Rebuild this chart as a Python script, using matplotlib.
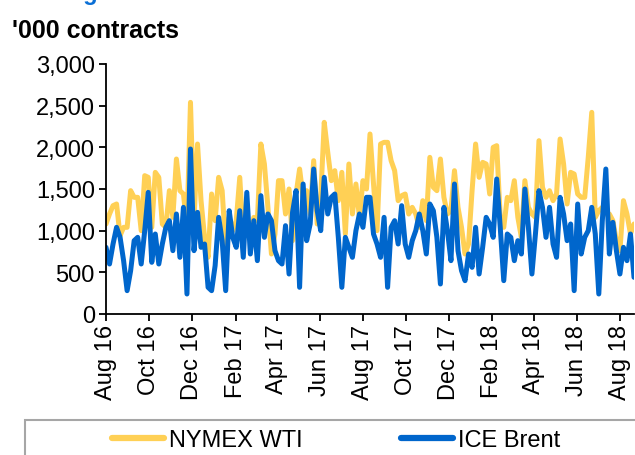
import pandas as pd
import numpy as np
import matplotlib
matplotlib.use("Agg")
import matplotlib.pyplot as plt
import matplotlib.dates as mdates
from matplotlib.patches import Rectangle

# daily volume, sampled every 5 days from 1 Aug 2016 ('000 contracts)
dates = pd.date_range("2016-08-01", periods=151, freq="5D")

nymex_wti = [
    1080, 1200, 1300, 1320, 940, 1040, 1040, 1480, 1400, 1400,
    1000, 1660, 1640, 1040, 1700, 1640, 1080, 1040, 1480, 1160,
    1860, 1480, 1440, 1040, 2540, 1120, 2040, 1360, 920, 680,
    1440, 1120, 1640, 1480, 800, 1160, 1000, 1120, 1640, 920,
    1000, 960, 1160, 1120, 2040, 1800, 1280, 720, 960, 1600,
    1600, 1200, 1500, 880, 1440, 1740, 1400, 1480, 1200, 1840,
    1080, 1400, 2300, 1940, 1600, 1720, 1360, 1700, 960, 1800,
    1200, 1560, 1160, 1600, 1500, 2160, 1560, 1000, 2040, 2060,
    2060, 1840, 1720, 1360, 1420, 1440, 1200, 1280, 1200, 1040,
    1360, 1120, 1880, 1520, 1480, 1860, 1400, 1200, 1240, 1720,
    1280, 1040, 720, 840, 1480, 2040, 1640, 1820, 1800, 1440,
    2000, 2020, 1160, 1040, 1400, 1360, 1600, 1160, 920, 1600,
    1280, 1200, 1160, 2080, 1520, 1400, 1480, 1360, 1440, 2100,
    1800, 1320, 1700, 1680, 1440, 1400, 1400, 1880, 2420, 1160,
    1240, 1280, 1200, 1200, 1120, 880, 760, 1360, 1200, 960,
    1080,
]

ice_brent = [
    800, 600, 840, 1040, 920, 640, 280, 520, 880, 920,
    600, 1000, 1460, 620, 960, 600, 840, 1040, 1120, 760,
    1200, 680, 1280, 240, 1980, 760, 1220, 800, 840, 320,
    280, 580, 1160, 880, 280, 1240, 920, 800, 1240, 680,
    1460, 720, 1120, 640, 1420, 920, 1200, 1120, 760, 640,
    600, 1060, 480, 1220, 1480, 320, 1560, 880, 1080, 1740,
    1240, 1000, 1640, 1200, 1400, 1440, 920, 320, 920, 800,
    680, 1000, 1200, 1040, 1400, 1400, 960, 840, 680, 1160,
    320, 1040, 1120, 840, 1300, 840, 680, 880, 1000, 1200,
    1000, 720, 1320, 1240, 920, 360, 1280, 1000, 640, 1560,
    760, 520, 400, 720, 560, 1040, 480, 800, 1160, 1080,
    920, 1620, 1040, 400, 960, 920, 640, 880, 720, 1500,
    1040, 480, 960, 1480, 1280, 920, 1280, 840, 680, 1400,
    1200, 880, 1080, 280, 1320, 720, 920, 1000, 1280, 960,
    240, 1120, 1740, 720, 1100, 760, 480, 800, 640, 960,
    440,
]

series_labels = ["NYMEX WTI", "ICE Brent"]
yticks = [0, 500, 1000, 1500, 2000, 2500, 3000]

wti_color = "#FFD055"
brent_color = "#0066CC"

plt.rcParams["font.family"] = ["Liberation Sans", "DejaVu Sans"]

fig = plt.figure(figsize=(6.35, 4.56), dpi=100)
ax = fig.add_axes([106 / 635, 1 - 315 / 456, 528 / 635, 250 / 456])

ax.plot(dates, nymex_wti, color=wti_color, lw=3.6, solid_joinstyle="round",
        solid_capstyle="round", label=series_labels[0])
ax.plot(dates, ice_brent, color=brent_color, lw=3.6, solid_joinstyle="round",
        solid_capstyle="round", label=series_labels[1])

ax.set_xlim(dates[0], dates[-1])
ax.set_ylim(0, 3000)
ax.set_yticks(yticks)
ax.yaxis.set_major_formatter(matplotlib.ticker.StrMethodFormatter("{x:,.0f}"))
ax.xaxis.set_major_locator(mdates.MonthLocator(bymonth=[2, 4, 6, 8, 10, 12]))
ax.xaxis.set_major_formatter(mdates.DateFormatter("%b %y"))
ax.tick_params(axis="x", labelrotation=90, labelsize=17, length=5, width=1.3, pad=2)
ax.tick_params(axis="y", labelsize=17, length=5, width=1.3, pad=3)
for s in ["top", "right"]:
    ax.spines[s].set_visible(False)
for s in ["left", "bottom"]:
    ax.spines[s].set_linewidth(1.3)

# cut-off heading at the very top and the unit label
fig.text(12 / 635, 1.0, "Trading volumes", color="#0A6FD6", fontsize=17,
         fontweight="bold", va="baseline", ha="left")
fig.text(12 / 635, 1 - 38 / 456, "'000 contracts", fontsize=18, fontweight="bold",
         va="baseline", ha="left")

# legend box running off the bottom / right edge
fig.patches.append(Rectangle((25 / 635, -0.1), 1.0, 0.1 + (456 - 421) / 456,
                             transform=fig.transFigure, fill=False,
                             edgecolor="#A6A6A6", lw=1.5))
fig.legend(loc="center left", bbox_to_anchor=(112 / 635, 1 - 441 / 456), ncol=2,
           frameon=False, fontsize=17, handlelength=2.2, handletextpad=0.2,
           columnspacing=4.2, borderpad=0, borderaxespad=0)
for line in fig.legends[0].get_lines():
    line.set_linewidth(4.5)

fig.savefig("out.png", dpi=100)
